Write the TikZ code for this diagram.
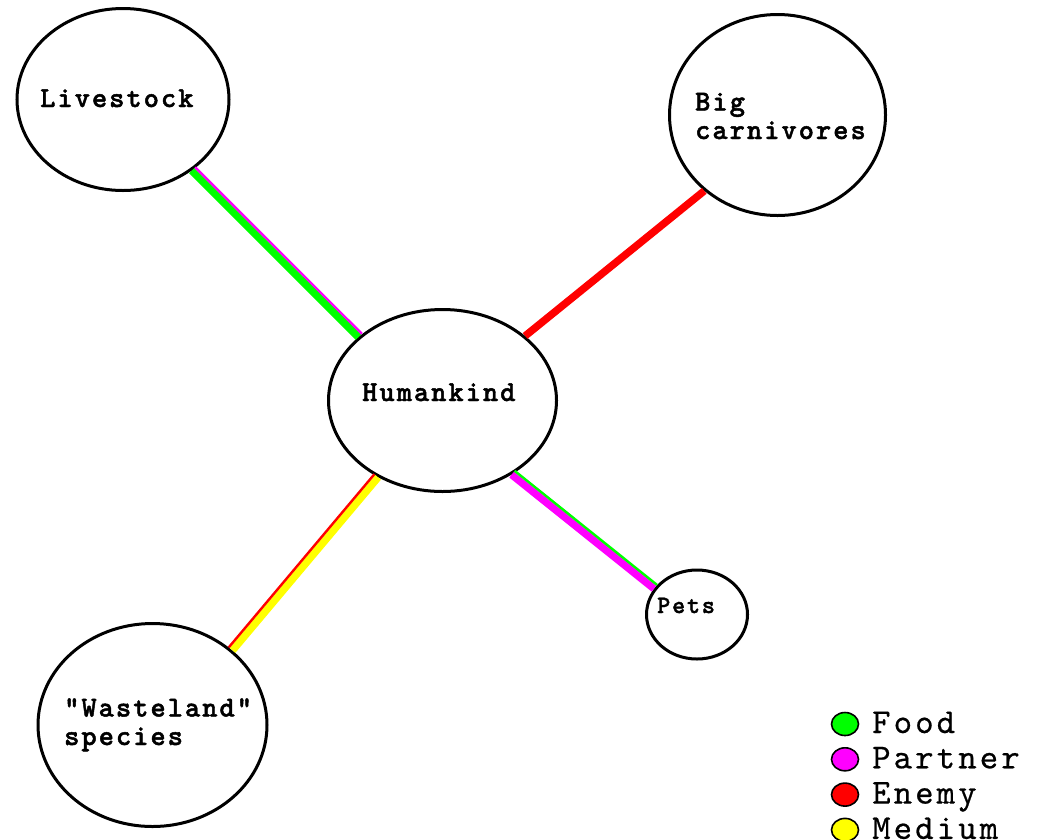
\documentclass[tikz,border=0pt]{standalone}
\usepackage{fontspec}
\usepackage{tikz}
\usetikzlibrary{shapes.geometric}

\newfontfamily\namefont[LetterSpace=7,FakeBold=1.6]{lmmonolt10-bold.otf}
\newfontfamily\keyfont[LetterSpace=9,FakeBold=0.6]{lmmono10-regular.otf}

\definecolor{foodgreen}{RGB}{0,255,0}
\definecolor{partnerpink}{RGB}{255,0,255}
\definecolor{enemyred}{RGB}{255,0,0}
\definecolor{mediumyellow}{RGB}{255,255,0}

\begin{document}
\begin{tikzpicture}[x=1pt,y=1pt,
  animal/.style={draw,ellipse,line width=3pt,inner sep=0pt},
  name text/.style={inner sep=0pt,anchor=base west,align=left,
    font=\namefont\fontsize{29}{28.5}\selectfont},
  edge/.style={line width=7.5pt},
  side edge/.style={line width=2.4pt},
  key dot/.style={draw,ellipse,line width=1.6pt,minimum width=27pt,minimum height=23pt,inner sep=0pt},
  key text/.style={inner sep=0pt,anchor=base west,font=\keyfont\fontsize{35}{35}\selectfont}]

  \useasboundingbox (0,0) rectangle (1040,-839);
  \fill[white] (0,0) rectangle (1040,-839);
  \clip (0,0) rectangle (1040,-839);

  \node[animal,minimum width=212pt,minimum height=182pt] (live) at (123,-99.5) {};
  \node[animal,minimum width=216pt,minimum height=201pt] (big) at (777.5,-115) {};
  \node[animal,minimum width=228pt,minimum height=182pt] (hum) at (442.5,-400.5) {};
  \node[animal,minimum width=101pt,minimum height=89pt] (pets) at (697,-614.5) {};
  \node[animal,minimum width=229pt,minimum height=203pt] (waste) at (152.5,-725) {};

  \node[name text] (livetxt) at (40,-107) {Livestock};
  \node[name text] (bigtxt) at (695,-139) {Big\\carnivores};
  \node[name text] (humtxt) at (362,-401) {Humankind};
  \node[name text,font=\namefont\fontsize{25}{26}\selectfont] (petstxt) at (657,-613) {Pets};
  \node[name text] (wastetxt) at (64,-745) {"Wasteland"\\species};

  % links, the thin one beside the thick one
  \draw[edge,foodgreen] (live.-46) -- (hum.143);
  \draw[side edge,partnerpink,transform canvas={shift={(3.4,3.4)}}] (live.-46) -- (hum.143);

  \draw[edge,enemyred] (big.-134) -- (hum.38);

  \draw[edge,mediumyellow] (hum.-130) -- (waste.43);
  \draw[side edge,enemyred,transform canvas={shift={(-3.7,3.1)}}] (hum.-130) -- (waste.43);

  \draw[edge,partnerpink] (hum.-47) -- (pets.149);
  \draw[side edge,foodgreen,transform canvas={shift={(3,3.8)}}] (hum.-47) -- (pets.149);

  % legend
  \foreach \col/\txt [count=\i] in {foodgreen/Food,partnerpink/Partner,enemyred/Enemy,mediumyellow/Medium}{
    \node[key dot,fill=\col] (dot\i) at (845,{-724-35.3*(\i-1)}) {};
    \node[key text] (key\i) at (872,{-733-35.3*(\i-1)}) {\txt};
  }

\end{tikzpicture}
\end{document}
